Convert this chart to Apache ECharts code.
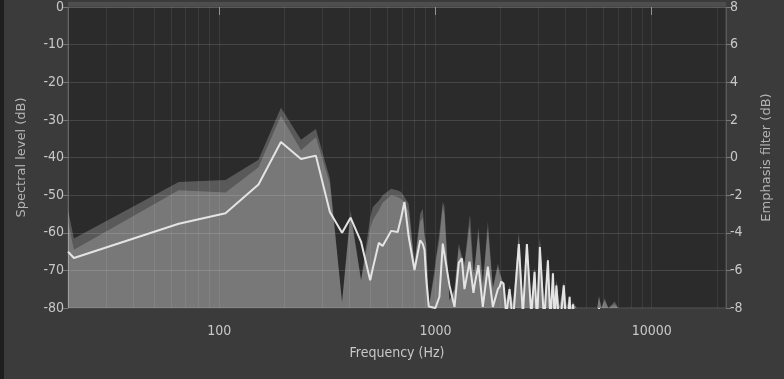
<!DOCTYPE html>
<html>
<head>
<meta charset="utf-8">
<script src="https://cdn.jsdelivr.net/npm/echarts@6/dist/echarts.min.js"></script>
<style>
  html, body { margin: 0; padding: 0; background: #3b3b3b; }
  #chart { width: 784px; height: 379px; }
</style>
</head>
<body>
<div id="chart"></div>
<script>
// frequency points (Hz), shared by all three curves
var freqs = [20, 21.3, 65, 107, 152, 193, 239, 280, 325, 370, 405, 453, 499, 513, 547, 570, 581, 624, 669, 694, 719, 752, 800, 850, 874, 890, 906, 931, 938, 1000, 1007, 1043, 1081, 1101, 1161, 1225, 1282, 1324, 1362, 1437, 1447, 1499, 1516, 1580, 1656, 1747, 1843, 1943, 1979, 2015, 2065, 2125, 2201, 2280, 2322, 2430, 2537, 2647, 2774, 2873, 2950, 3040, 3180, 3311, 3400, 3493, 3560, 3623, 3750, 3920, 4050, 4173, 4250, 4321, 4500, 5600, 5702, 5850, 6058, 6300, 6742, 7000, 22050];
// peak envelope (dark grey)
var peakLevel = [-54, -61.5, -46.5, -46, -40.6, -26.8, -35.3, -32.4, -45.6, -78.5, -54, -72.6, -56, -53.2, -51.5, -50, -49.5, -48.3, -48.8, -49.2, -50.5, -52.3, -68.2, -55, -53.6, -60, -62.9, -78, -78.7, -68, -66.4, -60, -51.8, -53, -78, -75, -62.9, -66, -68, -56, -55.4, -70, -70.7, -58.5, -73.4, -57.1, -74.4, -68.2, -70, -71.7, -74, -78, -74, -78.7, -78.7, -59.8, -77.9, -62.9, -78, -69, -79, -61.1, -79, -66, -79, -70, -78, -72.6, -79.5, -73, -79.5, -76.6, -79.5, -78.3, -80, -80, -76.8, -80, -77.4, -80, -78.3, -80, -80];
// spectral level (mid grey)
var specLevel = [-57, -64.5, -48.7, -49.3, -42.6, -28.9, -38.1, -34.6, -47, -78.5, -55.5, -72.6, -59, -56.7, -54, -52, -51.5, -50, -50.5, -51, -52, -54.5, -68.2, -57, -56, -61, -63, -78, -78.7, -70, -67, -62, -53, -55, -78, -75, -64, -67, -69, -58, -57.5, -71, -71, -60, -74, -59, -75, -69, -71, -72, -74.5, -78, -74.5, -79, -79, -61, -78, -63.5, -78, -70, -79, -62, -79, -67, -79, -70.5, -78, -73, -79.5, -74, -80, -77, -80, -79, -80, -80, -77, -80, -78, -80, -79, -80, -80];
// emphasis filter curve (white line); values under -80 fall below the plot
var filterLevel = [-65, -66.7, -57.6, -54.8, -47.2, -35.9, -40.4, -39.5, -54.5, -60, -56, -62.4, -72.6, -69.5, -62.7, -63.5, -63.9, -59.5, -59.8, -56, -51.8, -61, -69.9, -62, -63, -64.6, -72, -79.6, -80, -80, -79.5, -77, -62.9, -62.8, -74, -79.7, -68, -66.8, -75, -67.7, -68, -76, -74, -68.6, -79.7, -69, -79.7, -75, -74.4, -73, -73.5, -82, -75, -84, -84, -63, -82, -63, -82, -70.4, -84, -63.8, -84, -67.3, -84, -70.8, -84, -74, -86, -74, -88, -77, -88, -79, -90, -90, -80, -90, -81, -90, -82, -90, -90];
// vertical grid positions (Hz)
var gridFreqs = [20, 30, 40, 50, 60, 70, 80, 90, 100, 200, 300, 400, 500, 600, 700, 800, 900, 1000, 2000, 3000, 4000, 5000, 6000, 7000, 8000, 9000, 10000, 20000];
var freqLabels = [100, 1000, 10000];

function pairs(vals) {
  return freqs.map(function (f, i) { return [f, vals[i]]; });
}

var chart = echarts.init(document.getElementById('chart'));
var narrow = '"Liberation Sans Narrow", "DejaVu Sans Condensed", sans-serif';

chart.setOption({
  backgroundColor: '#3b3b3b',
  animation: false,
  graphic: [
    { type: 'rect', shape: { x: 0, y: 0, width: 4, height: 379 }, style: { fill: '#1e1e1e' } },
    { type: 'rect', shape: { x: 68, y: 2, width: 658, height: 4 }, style: { fill: '#4e4e4e' } }
  ],
  grid: {
    left: 68, right: 58, top: 6, bottom: 71,
    show: true, backgroundColor: '#2b2b2b', borderColor: '#555', borderWidth: 1
  },
  xAxis: {
    type: 'log', logBase: 10, min: 20, max: 22050,
    name: 'Frequency (Hz)', nameLocation: 'middle', nameGap: 38,
    nameTextStyle: { color: '#c8c8c8', fontSize: 14, fontFamily: narrow },
    axisLine: { lineStyle: { color: '#5a5a5a' } },
    axisTick: { customValues: freqLabels, length: 8, lineStyle: { color: '#8a8a8a' } },
    axisLabel: {
      customValues: freqLabels, color: '#c8c8c8', fontSize: 14, fontFamily: narrow, margin: 16,
      formatter: function (v) { return String(Math.round(v)); }
    },
    splitLine: { show: false }
  },
  yAxis: [
    {
      type: 'value', min: -80, max: 0, interval: 10,
      name: 'Spectral level (dB)', nameLocation: 'middle', nameGap: 40,
      nameTextStyle: { color: '#b4b4b4', fontSize: 13, fontFamily: 'DejaVu Sans' },
      axisLine: { show: true, lineStyle: { color: '#5a5a5a' } },
      axisTick: { show: true, length: 5, lineStyle: { color: '#777' } },
      axisLabel: { color: '#c8c8c8', fontSize: 14, fontFamily: narrow, margin: 4 },
      splitLine: { lineStyle: { color: '#464646' } }
    },
    {
      type: 'value', min: -8, max: 8, interval: 2, position: 'right',
      name: 'Emphasis filter (dB)', nameLocation: 'middle', nameGap: 34,
      nameTextStyle: { color: '#b4b4b4', fontSize: 13, fontFamily: 'DejaVu Sans' },
      axisLine: { show: true, lineStyle: { color: '#5a5a5a' } },
      axisTick: { show: true, length: 5, lineStyle: { color: '#777' } },
      axisLabel: { color: '#c8c8c8', fontSize: 14, fontFamily: narrow, margin: 4 },
      splitLine: { show: false }
    }
  ],
  series: [
    {
      type: 'line', data: pairs(peakLevel), symbol: 'none',
      lineStyle: { width: 0 },
      areaStyle: { origin: 'start', color: 'rgba(255,255,255,0.22)', opacity: 1 },
      markLine: {
        silent: true, symbol: 'none', label: { show: false },
        lineStyle: { color: 'rgba(255,255,255,0.08)', type: 'solid', width: 1 },
        data: gridFreqs.map(function (f) { return { xAxis: f }; })
      }
    },
    {
      type: 'line', data: pairs(specLevel), symbol: 'none',
      lineStyle: { width: 0 },
      areaStyle: { origin: 'start', color: 'rgba(255,255,255,0.19)', opacity: 1 }
    },
    {
      type: 'line', data: pairs(filterLevel), symbol: 'none',
      lineStyle: { width: 2, color: '#e4e4e4' }
    }
  ]
});
</script>
</body>
</html>
